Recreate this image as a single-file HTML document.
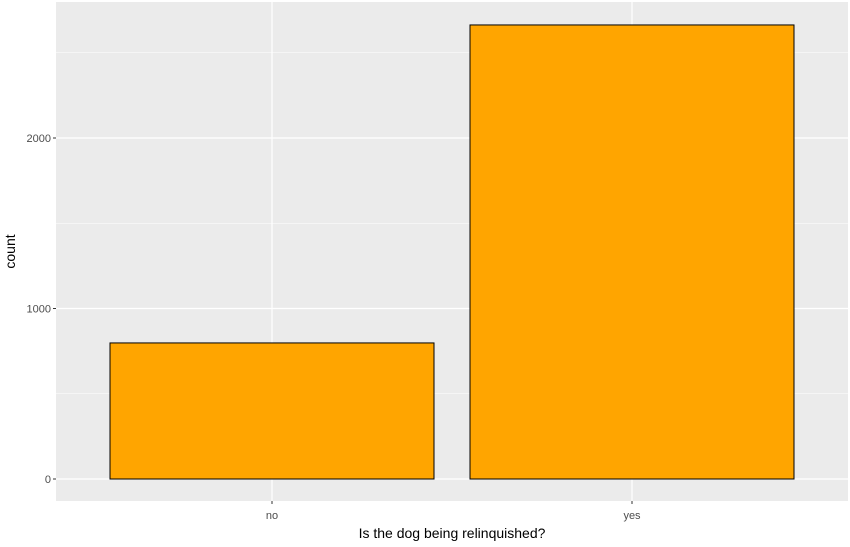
<!DOCTYPE html>
<html><head><meta charset="utf-8"><style>
body{margin:0;background:#fff;}
svg{display:block;font-family:"Liberation Sans",sans-serif;}
</style></head><body>
<svg id="chart" width="850" height="547"></svg>
<script>
const categories = ["no", "yes"];
const counts = [798, 2663];
const yTicks = [0, 1000, 2000];
const yMinor = [500, 1500, 2500];

const svg = document.getElementById('chart');
const NS = 'http://www.w3.org/2000/svg';
const panel = {x0: 56, x1: 848, y0: 2, y1: 501};
const y = v => 479 - v * 0.1705;
const band = (panel.x1 - panel.x0) / (categories.length + 0.2);
const xc = i => panel.x0 + band * (0.6 + i);
function mk(tag, attrs, parent) {
  const e = document.createElementNS(NS, tag);
  for (const k in attrs) e.setAttribute(k, attrs[k]);
  (parent || svg).appendChild(e);
  return e;
}
const bg = mk('rect', {x: panel.x0, y: panel.y0, width: panel.x1 - panel.x0, height: panel.y1 - panel.y0, fill: '#ebebeb'});


yMinor.forEach(v => {
  const l = mk('line', {x1: panel.x0, x2: panel.x1, y1: y(v), y2: y(v), stroke: '#fff', 'stroke-width': 0.6});
  
  
});
yTicks.forEach(v => {
  const l = mk('line', {x1: panel.x0, x2: panel.x1, y1: y(v), y2: y(v), stroke: '#fff', 'stroke-width': 1.2});
  
  
  const t = mk('line', {x1: panel.x0 - 3, x2: panel.x0, y1: y(v), y2: y(v), stroke: '#333', 'stroke-width': 1});
  
  
  const tx = mk('text', {x: panel.x0 - 5, y: y(v) + 4, 'text-anchor': 'end', 'font-size': 11, fill: '#4d4d4d'});
  tx.textContent = v;
  
  
});
categories.forEach((c, i) => {
  const l = mk('line', {x1: xc(i), x2: xc(i), y1: panel.y0, y2: panel.y1, stroke: '#fff', 'stroke-width': 1.2});
  
  
});
categories.forEach((c, i) => {
  const w = band * 0.9;
  const r = mk('rect', {x: xc(i) - w / 2, y: y(counts[i]), width: w, height: y(0) - y(counts[i]), fill: '#ffa500', stroke: '#000', 'stroke-width': 1});
  
  
  const t = mk('line', {x1: xc(i), x2: xc(i), y1: panel.y1, y2: panel.y1 + 3, stroke: '#333'});
  
  
  const tx = mk('text', {x: xc(i), y: 519, 'text-anchor': 'middle', 'font-size': 11, fill: '#4d4d4d'});
  tx.textContent = c;
  
  
});
const xt = mk('text', {x: (panel.x0 + panel.x1) / 2, y: 538, 'text-anchor': 'middle', 'font-size': 14, fill: '#000'});
xt.textContent = 'Is the dog being relinquished?';


const yt = mk('text', {x: 15, y: (panel.y0 + panel.y1) / 2, 'text-anchor': 'middle', 'font-size': 14, fill: '#000', transform: 'rotate(-90 15 ' + (panel.y0 + panel.y1) / 2 + ')'});
yt.textContent = 'count';


</script>
</body></html>
